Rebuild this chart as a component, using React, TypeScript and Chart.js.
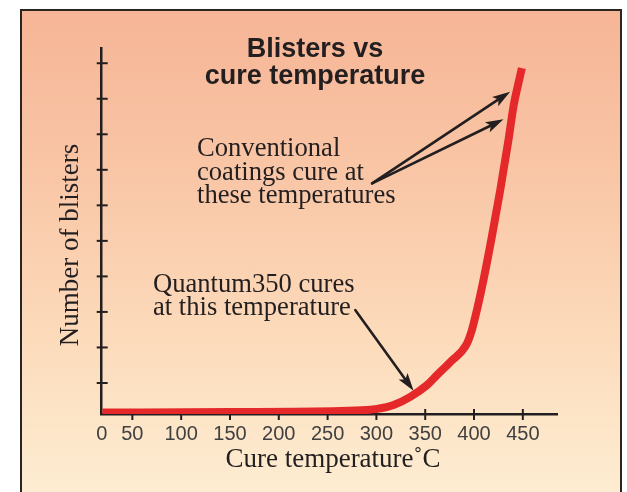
import { useEffect, useRef } from "react";
import { Chart, registerables } from "chart.js";

Chart.register(...registerables);

// ---- data ----
const temperatures = [19.3, 150, 263, 290, 300.7, 317.6, 334.7, 351.8, 362, 376, 392, 397.8, 403, 409.7, 418.3, 426.8, 435.3, 440.4, 445.5, 449];
const blisters = [0.17, 0.18, 0.21, 0.24, 0.27, 0.38, 0.61, 0.94, 1.22, 1.6, 2.07, 2.49, 3.06, 3.9, 5.12, 6.42, 7.84, 8.78, 9.44, 9.86];

const xTickValues = [0, 50, 100, 150, 200, 250, 300, 350, 400, 450];
const xTickLabels = ["0", "50", "100", "150", "200", "250", "300", "350", "400", "450"];
const yTickValues = [1, 2, 3, 4, 5, 6, 7, 8, 9, 10];

const chartTitle = ["Blisters vs", "cure temperature"];
const xAxisTitle = "Cure temperature˚C";
const yAxisTitle = "Number of blisters";
const conventionalNote = ["Conventional", "coatings cure at", "these temperatures"];
const quantumNote = ["Quantum350 cures", "at this temperature"];

// arrows in data units: [tailT, tailN, tipT, tipN]
const conventionalArrows = [
  [295.6, 6.62, 437.0, 9.2],
  [295.6, 6.62, 430.2, 8.42],
];
const quantumArrow = [278.5, 3.05, 338.1, 0.78];

const INK = "#231f20";
const RED = "#e5282a";

function drawArrow(ctx: CanvasRenderingContext2D, x1: number, y1: number, x2: number, y2: number) {
  const a = Math.atan2(y2 - y1, x2 - x1);
  const c = Math.cos(a), s = Math.sin(a);
  const L = 18, W = 5.5, N = 4;
  const bx = x2 - L * c, by = y2 - L * s;
  ctx.beginPath();
  ctx.moveTo(x1, y1);
  ctx.lineTo(x2 - (L - N) * c, y2 - (L - N) * s);
  ctx.stroke();
  ctx.beginPath();
  ctx.moveTo(x2, y2);
  ctx.lineTo(bx - W * s, by + W * c);
  ctx.lineTo(x2 - (L - N) * c, y2 - (L - N) * s);
  ctx.lineTo(bx + W * s, by - W * c);
  ctx.closePath();
  ctx.fill();
}

const tickMarksPlugin = {
  id: "crossTicks",
  beforeDatasetsDraw(chart: any) {
    const { ctx, scales } = chart;
    const x = scales.x, y = scales.y;
    ctx.save();
    ctx.strokeStyle = INK;
    ctx.lineWidth = 2;
    yTickValues.forEach((v) => {
      const py = y.getPixelForValue(v);
      ctx.beginPath();
      ctx.moveTo(x.left - 5, py);
      ctx.lineTo(x.left + 6, py);
      ctx.stroke();
    });
    xTickValues.forEach((v) => {
      if (v === 0) return;
      const px = x.getPixelForValue(v);
      ctx.beginPath();
      ctx.moveTo(px, y.bottom - 5);
      ctx.lineTo(px, y.bottom + 6);
      ctx.stroke();
    });
    ctx.restore();
  },
};

const annotationPlugin = {
  id: "notes",
  afterDraw(chart: any) {
    const { ctx, scales } = chart;
    const x = scales.x, y = scales.y;
    ctx.save();
    ctx.fillStyle = INK;
    // title
    ctx.font = "bold 27px 'Liberation Sans', Arial, sans-serif";
    ctx.textAlign = "center";
    ctx.textBaseline = "alphabetic";
    ctx.fillText(chartTitle[0], 315, 57);
    ctx.fillText(chartTitle[1], 315, 84);

    // notes
    ctx.font = "26.6px 'Liberation Serif', 'Times New Roman', serif";
    ctx.textAlign = "left";
    conventionalNote.forEach((t, i) => ctx.fillText(t, 197, 156 + i * 23.7));
    quantumNote.forEach((t, i) => ctx.fillText(t, 153, 291.7 + i * 23.5));

    // axis titles
    ctx.font = "27px 'Liberation Serif', 'Times New Roman', serif";
    ctx.textAlign = "center";
    ctx.fillText(xAxisTitle, 333, 466.5);
    ctx.save();
    ctx.translate(78, 245);
    ctx.rotate(-Math.PI / 2);
    ctx.fillText(yAxisTitle, 0, 0);
    ctx.restore();

    // arrows
    ctx.strokeStyle = INK;
    ctx.lineWidth = 2.6;
    ctx.lineCap = "round";
    [...conventionalArrows, quantumArrow].forEach(([t1, n1, t2, n2]) => {
      drawArrow(ctx, x.getPixelForValue(t1), y.getPixelForValue(n1), x.getPixelForValue(t2), y.getPixelForValue(n2));
    });
    ctx.restore();
  },
};

export default function App() {
  const ref = useRef<HTMLCanvasElement>(null);
  useEffect(() => {
    if (!ref.current) return;
    const chart = new Chart(ref.current, {
      type: "line",
      data: {
        datasets: [
          {
            data: temperatures.map((t, i) => ({ x: t, y: blisters[i] })),
            borderColor: RED,
            borderWidth: 8,
            borderCapStyle: "butt",
            pointRadius: 0,
            cubicInterpolationMode: "monotone",
            fill: false,
          },
        ],
      },
      options: {
        animation: false,
        responsive: false,
        layout: { padding: { left: 0, right: 70, top: 48.3, bottom: 0 } },
        plugins: { legend: { display: false }, tooltip: { enabled: false }, title: { display: false } },
        scales: {
          x: {
            type: "linear",
            min: 18.6,
            max: 485,
            afterBuildTicks: (scale: any) => {
              scale.ticks = xTickValues.map((v) => ({ value: v === 0 ? scale.min : v }));
            },
            afterFit: (scale: any) => {
              scale.height = 78;
            },
            grid: { display: true, drawOnChartArea: false, drawTicks: false },
            border: { display: true, color: INK, width: 2.5 },
            ticks: {
              autoSkip: false,
              maxRotation: 0,
              padding: 8,
              color: "#404040",
              font: { family: "'Liberation Sans', Arial, sans-serif", size: 20 },
              callback: (_v: any, i: number) => xTickLabels[i],
            },
          },
          y: {
            type: "linear",
            min: 0.127,
            max: 10.42,
            afterBuildTicks: (scale: any) => {
              scale.ticks = yTickValues.map((v) => ({ value: v }));
            },
            afterFit: (scale: any) => {
              scale.width = 101.7;
            },
            grid: { display: true, drawOnChartArea: false, drawTicks: false },
            border: { display: true, color: INK, width: 2.5 },
            ticks: { display: false },
          },
        },
      },
      plugins: [tickMarksPlugin, annotationPlugin],
    });
    return () => chart.destroy();
  }, []);

  return (
    <div style={{ position: "fixed", left: 0, top: 0, width: 627, height: 492, background: "#fff", overflow: "hidden" }}>
      <div
        style={{
          position: "absolute",
          left: 20,
          top: 9,
          width: 602,
          height: 520,
          boxSizing: "border-box",
          border: "2px solid #2a2422",
          background: "linear-gradient(to bottom, #f6b596 0%, #f9c8a8 35%, #fcdcbc 65%, #fef1d7 100%)",
        }}
      />
      <canvas ref={ref} width={627} height={492} style={{ position: "absolute", left: 0, top: 0 }} />
    </div>
  );
}
